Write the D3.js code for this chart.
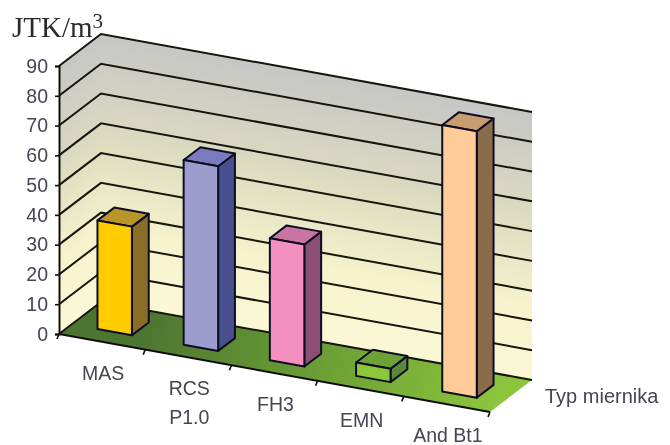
<!DOCTYPE html>
<html>
<head>
<meta charset="utf-8">
<script src="https://cdn.jsdelivr.net/npm/d3@7"></script>
<style>
  body { margin: 0; background: #fff; }
  svg { display: block; }
  text { font-family: "Liberation Sans", Arial, sans-serif; fill: #454552; }
</style>
</head>
<body>
<div id="wrapper"></div>
<script>
// values
const categories = ['MAS', 'RCS', 'FH3', 'EMN', 'And Bt1']
const labelLines = [['MAS'], ['RCS', 'P1.0'], ['FH3'], ['EMN'], ['And Bt1']]
const values = [36.5, 62, 41, 4.5, 89.5]
const frontColors = ['#ffcc00', '#9c9ccf', '#f490bf', '#8cc63a', '#ffcc99']
const sideColors = ['#8a6d28', '#4a4f8e', '#8a4f72', '#5a8a38', '#8a6c4c']
const topColors = ['#b8962c', '#7c7abf', '#c874a4', '#6ca238', '#c69c70']
const yTicks = [0, 10, 20, 30, 40, 50, 60, 70, 80, 90]

const width = 670
const height = 445

const wrapper = d3.select('#wrapper').append('svg')
    .attr('width', width)
    .attr('height', height)

const defs = wrapper.append('defs')
defs.append('filter').attr('id', 'soft')
    .append('feGaussianBlur').attr('stdDeviation', 0.45)

const bounds = wrapper.append('g').attr('filter', 'url(#soft)')

// 3d box: category runs along the front edge, depth goes back into the chart
const xScale = d3.scaleBand().domain(categories).range([0, 1]).paddingInner(0.6).paddingOuter(0.3)
const yScale = d3.scaleLinear().domain([0, 90]).range([334, 66])
const frontLeftX = 59
const alongX = 431, alongY = 78
const backX = 42, backY = -32

const project = (t, d, v) => [
    frontLeftX + t * alongX + d * backX,
    yScale(v) + t * alongY + d * backY,
]
const poly = pts => 'M' + pts.map(p => p.join(',')).join('L') + 'Z'
const wallLine = d3.line()

// gradients follow the slope of each wall
function addGradient(id, from, to, stops) {
    const g = defs.append('linearGradient').attr('id', id)
        .attr('gradientUnits', 'userSpaceOnUse')
        .attr('x1', from[0]).attr('y1', from[1])
        .attr('x2', to[0]).attr('y2', to[1])
    stops.forEach(s => g.append('stop').attr('offset', s[0]).attr('stop-color', s[1]))
}
const wallStops = [[0, '#c6c6c6'], [0.4, '#dcdcc0'], [0.72, '#f5f2cc'], [1, '#fbf8d6']]
const backA = project(0, 1, 90)
const backSlope = alongY / alongX
const backLen = (yScale(0) - yScale(90)) / (1 + backSlope * backSlope)
addGradient('backWall', backA,
    [backA[0] - backSlope * backLen, backA[1] + backLen], wallStops)
const leftA = project(0, 1, 90)
const leftSlope = backY / backX
const leftLen = (yScale(0) - yScale(90)) / (1 + leftSlope * leftSlope)
addGradient('leftWall', leftA,
    [leftA[0] - leftSlope * leftLen, leftA[1] + leftLen], wallStops)
addGradient('floor', project(0.1, 1, 0), project(1, 0.1, 0),
    [[0, '#4d7430'], [0.45, '#689a34'], [1, '#8cc43c']])

bounds.append('path')
    .attr('d', poly([project(0, 0, 90), project(0, 1, 90), project(0, 1, 0), project(0, 0, 0)]))
    .attr('fill', 'url(#leftWall)')
bounds.append('path')
    .attr('d', poly([project(0, 1, 90), project(1, 1, 90), project(1, 1, 0), project(0, 1, 0)]))
    .attr('fill', 'url(#backWall)')
bounds.append('path')
    .attr('d', poly([project(0, 0, 0), project(0, 1, 0), project(1, 1, 0), project(1, 0, 0)]))
    .attr('fill', 'url(#floor)')

// gridlines
bounds.append('g').selectAll('path')
    .data(yTicks)
    .join('path')
    .attr('d', v => wallLine([project(0, 0, v), project(0, 1, v), project(1, 1, v)]))
    .attr('fill', 'none')
    .attr('stroke', '#14140f')
    .attr('stroke-width', 2)

// floor front edge with ticks
const edge = bounds.append('g')
edge.append('path')
    .attr('d', wallLine([project(0, 0, 0), project(1, 0, 0)]))
    .attr('stroke', '#10100c').attr('stroke-width', 2)
edge.selectAll('line')
    .data(d3.range(0, 6))
    .join('line')
    .attr('x1', i => project(i / 5, 0, 0)[0])
    .attr('y1', i => project(i / 5, 0, 0)[1])
    .attr('x2', i => project(i / 5, 0, 0)[0] - 2)
    .attr('y2', i => project(i / 5, 0, 0)[1] + 5)
    .attr('stroke', '#10100c').attr('stroke-width', 1.6)

// bars
const depth0 = 0.3, depth1 = 0.7
const bars = bounds.append('g').selectAll('g')
    .data(categories)
    .join('g')
const barOutline = sel => sel
    .attr('stroke', '#0e0e22')
    .attr('stroke-width', 2)
    .attr('stroke-linejoin', 'round')

bars.append('path')
    .attr('d', (d, i) => {
        const t0 = xScale(d), t1 = t0 + xScale.bandwidth()
        return poly([project(t1, depth0, 0), project(t1, depth1, 0), project(t1, depth1, values[i]), project(t1, depth0, values[i])])
    })
    .attr('fill', (d, i) => sideColors[i])
    .call(barOutline)
bars.append('path')
    .attr('d', (d, i) => {
        const t0 = xScale(d), t1 = t0 + xScale.bandwidth()
        return poly([project(t0, depth0, values[i]), project(t0, depth1, values[i]), project(t1, depth1, values[i]), project(t1, depth0, values[i])])
    })
    .attr('fill', (d, i) => topColors[i])
    .call(barOutline)
bars.append('path')
    .attr('d', (d, i) => {
        const t0 = xScale(d), t1 = t0 + xScale.bandwidth()
        return poly([project(t0, depth0, 0), project(t1, depth0, 0), project(t1, depth0, values[i]), project(t0, depth0, values[i])])
    })
    .attr('fill', (d, i) => frontColors[i])
    .call(barOutline)

// y axis
const yAxis = bounds.append('g')
    .attr('transform', `translate(${frontLeftX},0)`)
    .call(d3.axisLeft(yScale).tickValues(yTicks).tickSize(4).tickPadding(7))
yAxis.select('.domain').attr('stroke', '#10100c').attr('stroke-width', 2)
yAxis.selectAll('.tick line').attr('stroke', '#10100c').attr('stroke-width', 1.6)
yAxis.selectAll('text')
    .style('font-family', '"Liberation Sans", Arial, sans-serif')
    .style('font-size', '19.5px')
    .style('fill', '#454552')

// category labels
bounds.append('g').selectAll('text')
    .data(categories)
    .join('text')
    .attr('font-size', 19.5)
    .attr('text-anchor', 'middle')
    .each(function (d, i) {
        const t = xScale(d) + xScale.bandwidth() / 2
        const p = project(t, 0, 0)
        d3.select(this).selectAll('tspan')
            .data(labelLines[i])
            .join('tspan')
            .attr('x', p[0] + 1)
            .attr('y', (line, k) => p[1] + 38 + k * 29)
            .text(line => line)
    })

bounds.append('text')
    .attr('x', 545).attr('y', 403)
    .attr('font-size', 20)
    .text('Typ miernika')

// unit title
const title = bounds.append('text')
    .attr('x', 12).attr('y', 37)
    .style('font-family', '"Liberation Serif", "Times New Roman", serif')
    .style('fill', '#2c2c2c')
    .attr('font-size', 29)
title.append('tspan').text('JTK/m')
title.append('tspan').attr('dy', -9).attr('font-size', 21).text('3')
</script>
</body>
</html>
